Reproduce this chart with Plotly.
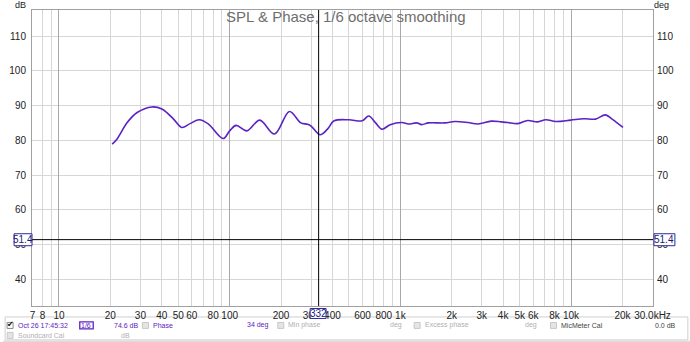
import plotly.graph_objects as go
import math

# ---- data ----
freq_hz = [20.5, 21.9, 25.1, 28.7, 35.0, 40.1, 46.9, 52.4, 58.6, 66.4, 74.9, 91.5,
           100, 109, 126, 150, 183, 224, 261, 286, 300, 338, 374, 409, 500, 597,
           653, 714, 781, 872, 1020, 1116, 1247, 1334, 1459, 1822, 2084, 2492,
           2850, 3406, 3894, 4260, 4871, 5569, 6367, 7115, 8135, 9947, 11890,
           13900, 15900, 17390, 20150]
spl_db = [78.9, 80.4, 85.1, 88.0, 89.6, 89.0, 86.1, 83.7, 84.8, 85.9, 84.7, 80.5,
          82.7, 84.3, 82.7, 85.8, 81.8, 88.3, 85.0, 84.6, 84.1, 81.6, 83.2, 85.6,
          85.9, 85.6, 87.0, 85.1, 83.2, 84.5, 85.1, 84.7, 85.0, 84.5, 85.0, 85.0,
          85.4, 85.1, 84.7, 85.5, 85.3, 85.1, 84.8, 85.7, 85.3, 85.9, 85.4, 85.8,
          86.2, 86.1, 87.3, 86.1, 83.7]

x_tick_vals = [7, 8, 9, 10, 20, 30, 40, 50, 60, 70, 80, 90, 100, 200, 300, 400, 500,
               600, 700, 800, 900, 1000, 2000, 3000, 4000, 5000, 6000, 7000, 8000,
               9000, 10000, 20000, 30000]
x_tick_text = ["7", "8", "", "10", "20", "30", "40", "50", "60", "", "80", "", "100",
               "200", "300", "400", "", "600", "", "800", "", "1k", "2k", "3k", "4k",
               "5k", "6k", "", "8k", "", "10k", "20k", "30.0kHz"]
decade_vals = [10, 100, 1000, 10000]
y_tick_vals = [40, 50, 60, 70, 80, 90, 100, 110]

cursor_freq = 332
cursor_db = 51.4

title_text = "SPL & Phase, 1/6 octave smoothing"

# ---- geometry helpers (pixel -> paper) ----
W, H = 690, 342
L, R, T, B = 29, 653, 9, 306
def px(x):
    return (x - L) / (R - L)
def py(y):
    return (B - y) / (B - T)

FONT = "Liberation Sans, Arial, sans-serif"
PURPLE = "#5b22c4"
LGRAY = "#b0b0b0"

fig = go.Figure()
fig.add_trace(go.Scatter(x=freq_hz, y=spl_db, mode="lines",
                         line=dict(color=PURPLE, width=1.6, shape="spline", smoothing=1.0),
                         hoverinfo="skip", showlegend=False))
# invisible trace to activate overlay axes
fig.add_trace(go.Scatter(x=[100], y=[50], xaxis="x2", yaxis="y2", mode="markers",
                         marker=dict(opacity=0), showlegend=False, hoverinfo="skip"))

xr = [math.log10(6.95), math.log10(30200)]
yr = [32.3, 117.5]

fig.update_layout(
    width=W, height=H,
    margin=dict(l=L, r=W - R, t=T, b=H - B),
    paper_bgcolor="white", plot_bgcolor="white",
    font=dict(family=FONT, size=10, color="#222"),
    xaxis=dict(type="log", range=xr, tickvals=x_tick_vals, ticktext=x_tick_text,
               tickangle=0, ticklabelstandoff=0,
               showgrid=True, gridcolor="#d6d6d6", gridwidth=1, ticks="",
               showline=True, linecolor="#a0a0a0", mirror=True, linewidth=1,
               zeroline=False, tickfont=dict(size=10, color="#222")),
    xaxis2=dict(type="log", range=xr, overlaying="x", tickvals=decade_vals,
                showticklabels=False, showgrid=True, gridcolor="#a8a8a8", gridwidth=1,
                ticks="", zeroline=False, showline=False),
    yaxis=dict(range=yr, tickvals=y_tick_vals, showgrid=True, gridcolor="#d6d6d6",
               ticks="", ticklabelstandoff=3, zeroline=False,
               showline=True, linecolor="#a0a0a0", mirror=True,
               tickfont=dict(size=10, color="#222")),
    yaxis2=dict(range=yr, tickvals=y_tick_vals, overlaying="y", side="right",
                showgrid=False, ticks="", ticklabelstandoff=3, zeroline=False,
                tickfont=dict(size=10, color="#222")),
)

shapes = []
# cursor lines
shapes.append(dict(type="line", xref="x", yref="paper", x0=cursor_freq, x1=cursor_freq,
                   y0=0, y1=1, line=dict(color="black", width=1)))
shapes.append(dict(type="line", xref="paper", yref="y", x0=0, x1=1,
                   y0=cursor_db, y1=cursor_db, line=dict(color="black", width=1)))

annos = []
def box_label(text, xc, yc, w, h):
    shapes.append(dict(type="rect", xref="paper", yref="paper",
                       x0=px(xc - w / 2), x1=px(xc + w / 2),
                       y0=py(yc + h / 2), y1=py(yc - h / 2),
                       line=dict(color="#2a2a9a", width=1), fillcolor="white", layer="above"))
    annos.append(dict(text=text, xref="paper", yref="paper", x=px(xc), y=py(yc),
                      showarrow=False, font=dict(size=10, color="#1a1a7a"),
                      xanchor="center", yanchor="middle"))

box_label(f"{cursor_db:.1f}", 20, 239.5, 18, 12)
box_label(f"{cursor_db:.1f}", 664.5, 239.5, 21, 12)
box_label(f"{cursor_freq}", 316.5, 313.5, 16, 10)

# title
annos.append(dict(text=title_text, xref="paper", yref="paper", x=px(345), y=py(16),
                  showarrow=False, font=dict(size=15, color="#6e6e6e"),
                  xanchor="center", yanchor="middle"))
# axis unit labels
annos.append(dict(text="dB", xref="paper", yref="paper", x=px(17), y=py(4),
                  showarrow=False, font=dict(size=9, color="#222"),
                  xanchor="center", yanchor="middle"))
annos.append(dict(text="deg", xref="paper", yref="paper", x=px(662), y=py(4),
                  showarrow=False, font=dict(size=9, color="#222"),
                  xanchor="center", yanchor="middle"))

# legend panel
shapes.append(dict(type="rect", xref="paper", yref="paper", x0=px(2), x1=px(688),
                   y0=py(340), y1=py(317), line=dict(color="#cfcfcf", width=1),
                   fillcolor="white", layer="below"))
shapes.append(dict(type="rect", xref="paper", yref="paper", x0=px(0), x1=px(690),
                   y0=py(342), y1=py(340.5), line=dict(width=0),
                   fillcolor="#dcdcdc", layer="below"))

def checkbox(x, y, checked=False):
    shapes.append(dict(type="rect", xref="paper", yref="paper",
                       x0=px(x), x1=px(x + 6), y0=py(y + 3), y1=py(y - 3),
                       line=dict(color="#888" if checked else "#c8c8c8", width=1),
                       fillcolor="white" if checked else "#e4e4e4"))
    if checked:
        annos.append(dict(text="✔", xref="paper", yref="paper", x=px(x + 3.3), y=py(y - 0.5),
                          showarrow=False, font=dict(size=8, color="#111",
                                                     family="DejaVu Sans"),
                          xanchor="center", yanchor="middle"))

def txt(text, x, y, color, size=7):
    annos.append(dict(text=text, xref="paper", yref="paper", x=px(x), y=py(y),
                      showarrow=False, font=dict(size=size, color=color),
                      xanchor="left", yanchor="middle"))

r1, r2 = 325.5, 335.5
checkbox(4, r1, True)
txt("Oct 26 17:45:32", 12.5, r1, PURPLE)
# 1/6 box
shapes.append(dict(type="rect", xref="paper", yref="paper", x0=px(77), x1=px(90.5),
                   y0=py(r1 + 3.5), y1=py(r1 - 3.5), line=dict(color=PURPLE, width=1.3),
                   fillcolor="white"))
annos.append(dict(text="1/6", xref="paper", yref="paper", x=px(83.7), y=py(r1),
                  showarrow=False, font=dict(size=7, color=PURPLE),
                  xanchor="center", yanchor="middle"))
txt("74.6 dB", 109.5, r1, PURPLE)
checkbox(140, r1)
txt("Phase", 148.5, r1, PURPLE)
txt("34 deg", 243.5, r1, PURPLE)
checkbox(276, r1)
txt("Min phase", 284, r1, LGRAY)
txt("deg", 386.5, r1, LGRAY)
checkbox(413, r1)
txt("Excess phase", 421.5, r1, LGRAY)
txt("deg", 522.5, r1, LGRAY)
checkbox(550, r1)
txt("MicMeter Cal", 558.5, r1, "#444")
txt("0.0 dB", 652.5, r1, "#444")
checkbox(4, r2)
txt("Soundcard Cal", 12.5, r2, LGRAY)
txt("dB", 116.5, r2, LGRAY)

fig.update_layout(shapes=shapes, annotations=annos)
fig.write_html("out.html")
